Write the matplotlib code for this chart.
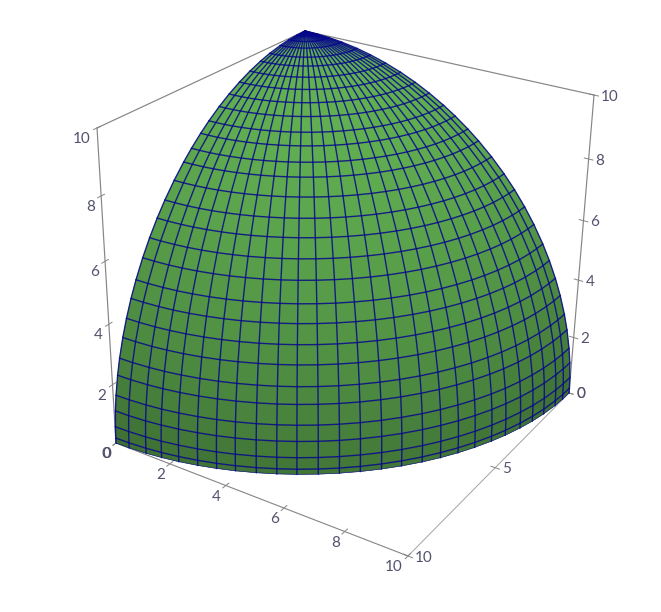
import numpy as np
from matplotlib import pyplot as plt

# Mesh of the sphere octant, ring and meridian angles
RADIUS = 10
LAT_DEG = [0, 1, 3.2, 6.2, 9.1, 12.7, 15.7, 19.3, 22.6, 26, 29.2, 33, 36.5, 40, 43.3,
           47, 50.6, 53.4, 56.6, 59.4, 62.8, 66, 69.3, 72.6, 75.9, 78.8, 82.1, 84.8, 87.3, 90]
LON_DEG = [0, 2.6, 5.3, 9, 12.3, 15.6, 19.2, 22.4, 26, 29.4, 32.8, 36.2, 39.9, 43.4, 47,
           50.5, 54, 57.5, 60.8, 64.2, 67.7, 70.9, 74.2, 77.6, 80.8, 83.8, 87.2, 90]

# Axis ticks
X_TICKS = [0, 2, 4, 6, 8, 10]
Y_TICKS = [0, 5, 10]
Z_TICKS = [0, 2, 4, 6, 8, 10]

# Box corners and where they land on the image, used to solve the camera
CAM_WORLD = [(0, 10, 0), (10, 0, 0), (10, 10, 0), (0, 0, 10), (0, 10, 10), (10, 0, 10)]
CAM_PIXEL = [(116, 443), (569, 393), (408, 556), (305, 31), (97, 128), (594, 95)]

BASE_GREEN = np.array([98, 176, 82]) / 255
GRID_COLOR = '#06068c'
AXIS_COLOR = '#858585'
TEXT_COLOR = '#52526e'
TICK_HALF = 0.14


# Projection matrix from the corner matches
def solve_camera():
    rows = []
    for (x, y, z), (u, v) in zip(CAM_WORLD, CAM_PIXEL):
        rows.append([x, y, z, 1, 0, 0, 0, 0, -u*x, -u*y, -u*z, -u])
        rows.append([0, 0, 0, 0, x, y, z, 1, -v*x, -v*y, -v*z, -v])
    P = np.linalg.svd(np.array(rows, dtype=float))[2][-1].reshape(3, 4)
    if P[2] @ [5, 5, 5, 1] < 0:
        P = -P
    return P


P = solve_camera()
# mplot3d wants a 4x4 matrix, third row only used for depth sorting
M = np.vstack([P[0], P[1], [0, 0, 0, -1], P[2]])


def to_pixel(x, y, z):
    h = P @ [x, y, z, 1]
    return h[0] / h[2], h[1] / h[2]


fig = plt.figure(figsize=(6.61, 6.12), dpi=100)
# ortho only so that Line3D does not clip to the unit view box
ax = fig.add_axes([24.5 / 661, 0, 612 / 661, 1], projection='3d', computed_zorder=False, proj_type='ortho')
ax.set_axis_off()
ax.patch.set_alpha(0)

lat = np.radians(LAT_DEG)
lon = np.radians(LON_DEG)
LON, LAT = np.meshgrid(lon, lat)
X = RADIUS * np.cos(LAT) * np.cos(LON)
Y = RADIUS * np.cos(LAT) * np.sin(LON)
Z = RADIUS * np.sin(LAT)

# Facet shading, light from above and a little towards the viewer
light = np.array([0.25, 0.25, 1.0])
light = light / np.linalg.norm(light)
nx = (X[:-1, :-1] + X[1:, 1:]) / 2
ny = (Y[:-1, :-1] + Y[1:, 1:]) / 2
nz = (Z[:-1, :-1] + Z[1:, 1:]) / 2
nn = np.sqrt(nx**2 + ny**2 + nz**2)
shade = 0.5 + 0.5 * np.clip((nx*light[0] + ny*light[1] + nz*light[2]) / nn, 0, 1)
facecolors = np.dstack([shade * BASE_GREEN[0], shade * BASE_GREEN[1], shade * BASE_GREEN[2],
                        np.ones_like(shade)])

ax.plot_surface(X, Y, Z, facecolors=facecolors, rstride=1, cstride=1, shade=False,
                linewidth=0.4, zorder=2)

# Rim ring is much fainter than the others in the reference
for i in range(len(LAT_DEG)):
    ax.plot(X[i], Y[i], Z[i], color=GRID_COLOR, lw=0.45 if i == 0 else 1.0, alpha=0.85, zorder=3)
for j in range(len(LON_DEG)):
    ax.plot(X[:, j], Y[:, j], Z[:, j], color=GRID_COLOR, lw=1.0, alpha=0.85, zorder=3)

# Box edges, the y axis is the lightest
ax.plot([0, 10], [10, 10], [0, 0], color=AXIS_COLOR, lw=0.8, zorder=1)
ax.plot([10, 10], [0, 10], [0, 0], color='#a3a3a3', lw=0.7, zorder=1)
edges = [((0, 10, 0), (0, 10, 10)), ((10, 0, 0), (10, 0, 10)),
         ((0, 10, 10), (0, 0, 10)), ((10, 0, 10), (0, 0, 10))]
for a, b in edges:
    ax.plot([a[0], b[0]], [a[1], b[1]], [a[2], b[2]], color=AXIS_COLOR, lw=0.85, zorder=1)


def tick(p, q, text, offset, ha):
    ax.plot([p[0], q[0]], [p[1], q[1]], [p[2], q[2]], color=AXIS_COLOR, lw=0.7, zorder=1)
    mid = ((p[0] + q[0]) / 2, (p[1] + q[1]) / 2, (p[2] + q[2]) / 2)
    ax.annotate(text, to_pixel(*mid), xytext=offset, textcoords='offset pixels', ha=ha, va='center',
                fontsize=11, color=TEXT_COLOR, family='Lato', annotation_clip=False)


for v in X_TICKS:
    tick((v, 10 - TICK_HALF, 0), (v, 10 + TICK_HALF, 0), str(v), (-5, -11), 'right')
for v in Y_TICKS:
    tick((10 - TICK_HALF, v, 0), (10 + TICK_HALF, v, 0), str(v), (7, -1.5), 'left')
for v in Z_TICKS:
    tick((0, 10 - TICK_HALF, v), (0, 10 + TICK_HALF, v), str(v), (-6, -11), 'right')
    tick((10 - TICK_HALF, 0, v), (10 + TICK_HALF, 0, v), str(v), (7, -1.5), 'left')

# Hand the solved camera to mplot3d, axes data is image pixels
ax.get_proj = lambda: M
ax.viewLim.intervalx = (24.5, 636.5)
ax.viewLim.intervaly = (612, 0)

fig.savefig('out.png', dpi=100)
